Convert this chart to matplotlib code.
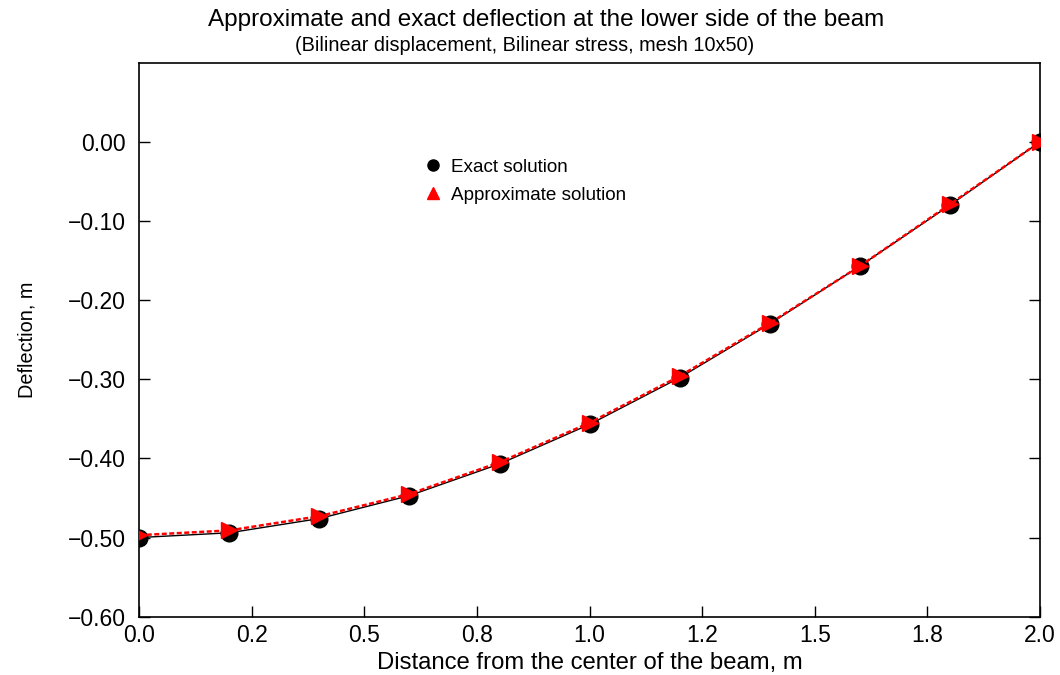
import matplotlib
matplotlib.use("Agg")
import matplotlib.pyplot as plt
from matplotlib.lines import Line2D
from matplotlib.ticker import FixedLocator, FuncFormatter

plt.rcParams["font.family"] = ["Liberation Sans", "DejaVu Sans"]

# distance from beam centre (m) and deflection of the lower side (m)
x = [0.0, 0.2, 0.4, 0.6, 0.8, 1.0, 1.2, 1.4, 1.6, 1.8, 2.0]
w_exact = [-0.500, -0.494, -0.476, -0.447, -0.407, -0.357,
           -0.298, -0.230, -0.157, -0.080, 0.000]
w_approx = [-0.497, -0.491, -0.473, -0.445, -0.405, -0.355,
            -0.296, -0.229, -0.157, -0.079, 0.000]

xticks = [0.0, 0.25, 0.5, 0.75, 1.0, 1.25, 1.5, 1.75, 2.0]
xtick_labels = ["0.0", "0.2", "0.5", "0.8", "1.0", "1.2", "1.5", "1.8", "2.0"]
yticks = [-0.6, -0.5, -0.4, -0.3, -0.2, -0.1, 0.0]


def yfmt(v, pos):
    s = f"{v:.2f}"
    if s == "-0.00":
        s = "0.00"
    return s.replace("-", "\u2212")


fig = plt.figure(figsize=(10.6, 6.75), dpi=100)
ax = fig.add_axes([0.1314, 0.0864, 0.8497, 0.8207])

ax.plot(x, w_exact, color="black", lw=1.0, marker="o", ms=12,
        mfc="black", mec="black", zorder=2)
ax.plot(x, w_approx, color="red", lw=1.8, ls=(0, (2, 1)), marker=">",
        ms=12, mfc="red", mec="red", zorder=3)

ax.set_xlim(0.0, 2.0)
ax.set_ylim(-0.6, 0.1)
ax.xaxis.set_major_locator(FixedLocator(xticks))
ax.set_xticklabels(xtick_labels)
ax.yaxis.set_major_locator(FixedLocator(yticks))
ax.yaxis.set_major_formatter(FuncFormatter(yfmt))
ax.tick_params(direction="in", length=8, width=1, labelsize=16.5,
               right=True, top=False)
ax.tick_params(axis="x", pad=5)
ax.tick_params(axis="y", pad=10)
for s in ax.spines.values():
    s.set_linewidth(1.2)

ax.set_xlabel("Distance from the center of the beam, m", fontsize=17.2,
              labelpad=4)
ax.set_ylabel("Deflection, m", fontsize=14.3, labelpad=22)

fig.text(0.515, 0.970, "Approximate and exact deflection at the lower side of the beam",
         ha="center", va="center", fontsize=17.5)
fig.text(0.4945, 0.932, "(Bilinear displacement, Bilinear stress, mesh 10x50)",
         ha="center", va="center", fontsize=14.3)

handles = [
    Line2D([], [], ls="none", marker="o", ms=8, mfc="black", mec="black"),
    Line2D([], [], ls="none", marker="^", ms=9, mfc="red", mec="red"),
]
ax.legend(handles, ["Exact solution", "Approximate solution"],
          loc="upper left", bbox_to_anchor=(0.392, 0.776), bbox_transform=fig.transFigure,
          frameon=False, fontsize=13.6, handlelength=1.0, handletextpad=0.5,
          labelspacing=0.55, borderaxespad=0)

fig.savefig("out.png", dpi=100)
